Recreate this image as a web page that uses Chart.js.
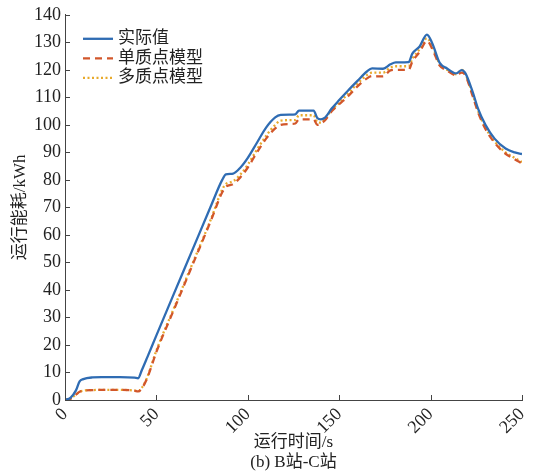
<!DOCTYPE html>
<html>
<head>
<meta charset="utf-8">
<script src="https://cdn.jsdelivr.net/npm/chart.js@4.4.1/dist/chart.umd.min.js"></script>
<style>
  html, body { margin: 0; padding: 0; background: #fff; }
  #caja { width: 535px; height: 474px; }
</style>
</head>
<body>
<div id="caja"><canvas id="grafico"></canvas></div>
<script>
// tiempo de marcha (s)
const tiempos = [0, 3, 6, 8, 10, 15, 20, 30, 38, 40, 42, 45, 50, 60, 70, 80, 86, 88, 92, 96, 100, 105, 110, 115, 118, 123, 126, 128, 136, 138, 140, 142, 146, 150, 155, 160, 165, 168, 174, 178, 181, 188, 190, 194, 198, 201, 205, 209, 214, 217, 219, 223, 226, 230, 235, 241, 246, 250];
// 实际值 (kWh)
const valorReal = [0, 0.8, 3.5, 6.8, 7.6, 8.2, 8.3, 8.3, 8.1, 7.9, 10.8, 15.5, 23.5, 39.3, 55, 70.8, 80, 82, 82.3, 84.5, 88, 93.5, 99, 102.7, 103.6, 103.7, 103.8, 105.2, 105.2, 102.5, 102, 102.5, 106, 109, 112.6, 116, 119.3, 120.5, 120.4, 122, 122.7, 122.8, 125.9, 128.5, 132.8, 129.5, 122.5, 120.5, 118.7, 119.9, 118.8, 112, 105.8, 100, 95, 91.4, 90, 89.4];
// 单质点模型 (kWh)
const unaMasa = [0, 0.5, 2, 3, 3.4, 3.6, 3.7, 3.7, 3.4, 3.1, 4.2, 8, 17.5, 33.5, 49.5, 65.5, 75.5, 77.5, 78.5, 81, 84.5, 90, 95, 98.7, 100, 100.3, 100.5, 102, 102, 100, 100.5, 101.5, 105, 107.5, 110.5, 114, 116.8, 117.7, 117.6, 119.8, 120, 120, 123, 126.5, 130.5, 127.5, 121.5, 119.8, 118, 119, 118, 110.5, 104.5, 98.5, 93.5, 89.5, 87.5, 86];
// 多质点模型 (kWh)
const multiMasa = [0, 0.5, 2, 3, 3.4, 3.6, 3.7, 3.7, 3.4, 3.2, 4.4, 8.3, 18, 34, 50, 66, 76.5, 78.5, 79.5, 82, 85.5, 91, 96, 100, 101.5, 101.7, 101.8, 103.5, 103.5, 101, 100.8, 102, 105.5, 108, 111.5, 115, 118, 119, 119, 120.8, 121.3, 121.3, 124, 127.5, 131.5, 128.5, 122, 120, 118.4, 120, 118.5, 111, 105, 99, 94, 90, 88, 86.5];

const etiquetas = ['实际值', '单质点模型', '多质点模型'];
const colores = ['#2f6cb3', '#d2572b', '#e8aa2c'];

const fuente = "'Liberation Serif', 'Noto Sans CJK SC', serif";

function armarPuntos(valores) {
  return tiempos.map((t, i) => ({ x: t, y: valores[i] }));
}

// marcas de eje hacia dentro
const marcasInternas = {
  id: 'marcasInternas',
  afterDraw(chart) {
    const { ctx, chartArea, scales } = chart;
    ctx.save();
    ctx.strokeStyle = '#444';
    ctx.lineWidth = 1;
    scales.x.ticks.forEach(t => {
      const px = Math.round(scales.x.getPixelForValue(t.value)) + 0.5;
      ctx.beginPath();
      ctx.moveTo(px, chartArea.bottom);
      ctx.lineTo(px, chartArea.bottom - 5);
      ctx.stroke();
    });
    scales.y.ticks.forEach(t => {
      const py = Math.round(scales.y.getPixelForValue(t.value)) + 0.5;
      ctx.beginPath();
      ctx.moveTo(chartArea.left, py);
      ctx.lineTo(chartArea.left + 5, py);
      ctx.stroke();
    });
    ctx.restore();
  }
};

// leyenda dentro del área
const leyendaInterna = {
  id: 'leyendaInterna',
  afterDraw(chart) {
    const { ctx, chartArea } = chart;
    ctx.save();
    ctx.font = '17px ' + fuente;
    ctx.textBaseline = 'middle';
    chart.data.datasets.forEach((ds, i) => {
      const y = chartArea.top + 24 + i * 19.5;
      const x0 = chartArea.left + 18;
      ctx.strokeStyle = ds.borderColor;
      ctx.lineWidth = ds.borderWidth;
      ctx.setLineDash(ds.borderDash || []);
      ctx.beginPath();
      ctx.moveTo(x0, y);
      ctx.lineTo(x0 + 30, y);
      ctx.stroke();
      ctx.setLineDash([]);
      ctx.fillStyle = '#222';
      ctx.fillText(ds.label, x0 + 35, y);
    });
    ctx.restore();
  }
};

new Chart(document.getElementById('grafico'), {
  type: 'line',
  data: {
    datasets: [
      { label: etiquetas[0], data: armarPuntos(valorReal), borderColor: colores[0], borderWidth: 2.3 },
      { label: etiquetas[1], data: armarPuntos(unaMasa), borderColor: colores[1], borderWidth: 2.3, borderDash: [7, 5] },
      { label: etiquetas[2], data: armarPuntos(multiMasa), borderColor: colores[2], borderWidth: 2.3, borderDash: [2, 2.5] }
    ]
  },
  options: {
    responsive: true,
    maintainAspectRatio: false,
    animation: false,
    layout: { padding: { left: 8, right: 13, top: 8, bottom: 0 } },
    elements: {
      point: { radius: 0 },
      line: { cubicInterpolationMode: 'monotone', fill: false }
    },
    plugins: {
      legend: { display: false },
      tooltip: { enabled: false }
    },
    scales: {
      x: {
        type: 'linear',
        min: 0, max: 250,
        grid: { display: false, drawTicks: false },
        border: { display: true, color: '#444', width: 1 },
        ticks: {
          stepSize: 50, minRotation: 45, maxRotation: 45, padding: 4,
          color: '#222', font: { family: fuente, size: 18 }
        },
        title: {
          display: true,
          text: ['运行时间/s', '(b) B站-C站'],
          color: '#222',
          font: { family: fuente, size: 17, lineHeight: 1.15 },
          padding: { top: 0, bottom: 2 }
        },
        afterFit(scale) {
          scale.height = 74;
          scale.paddingRight = 0;
          scale.paddingLeft = 0;
        }
      },
      y: {
        min: 0, max: 140,
        grid: { display: false, drawTicks: false },
        border: { display: true, color: '#444', width: 1 },
        ticks: {
          stepSize: 10, padding: 4,
          color: '#222', font: { family: fuente, size: 18 }
        },
        title: {
          display: true,
          text: '运行能耗/kWh',
          color: '#222',
          font: { family: fuente, size: 17 },
          padding: { top: 2, bottom: 0 }
        },
        afterFit(scale) { scale.width = 57; }
      }
    }
  },
  plugins: [marcasInternas, leyendaInterna]
});
</script>
</body>
</html>
